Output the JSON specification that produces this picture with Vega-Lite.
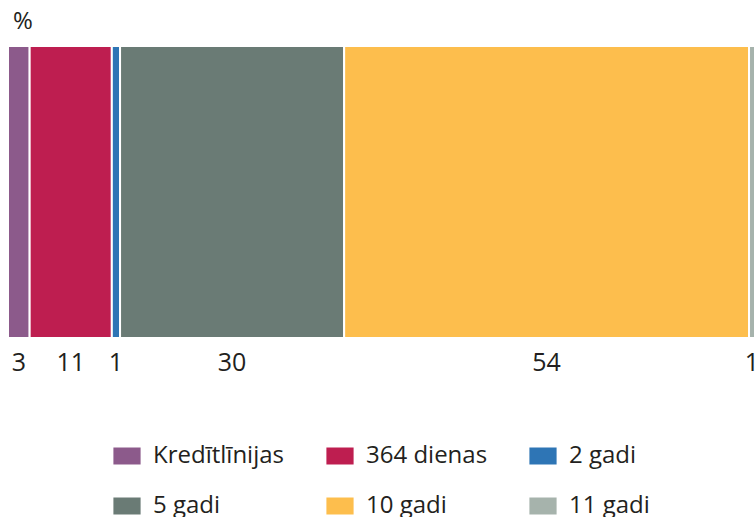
{
  "$schema": "https://vega.github.io/schema/vega-lite/v6.json",
  "autosize": "none",
  "width": 747,
  "height": 292,
  "padding": {"left": 8, "top": 46, "right": 0, "bottom": 179},
  "background": "white",
  "config": {"view": {"stroke": null}, "font": "Open Sans"},
  "title": {"text": "%", "anchor": "start", "frame": "group", "font": "Open Sans", "fontSize": 24, "fontWeight": "normal", "color": "#231F20", "dx": 5, "offset": 12},
  "data": {"values": [
    {"order": 1, "category": "Kredītlīnijas", "value": 2.9},
    {"order": 2, "category": "364 dienas", "value": 11.0},
    {"order": 3, "category": "2 gadi", "value": 1.1},
    {"order": 4, "category": "5 gadi", "value": 30.0},
    {"order": 5, "category": "10 gadi", "value": 54.2},
    {"order": 6, "category": "11 gadi", "value": 0.8}
  ]},
  "transform": [
    {"stack": "value", "groupby": [], "sort": [{"field": "order", "order": "ascending"}], "as": ["x0", "x1"]},
    {"calculate": "(datum.x0 + datum.x1) / 2", "as": "mid"}
  ],
  "layer": [
    {
      "mark": {"type": "bar", "stroke": "white", "strokeWidth": 2, "clip": true},
      "encoding": {
        "x": {"field": "x0", "type": "quantitative", "scale": {"domain": [0, 100], "nice": false}, "axis": null},
        "x2": {"field": "x1"},
        "y": {"value": 0},
        "y2": {"value": "height"},
        "color": {
          "field": "category", "type": "nominal",
          "scale": {
            "domain": ["Kredītlīnijas", "364 dienas", "2 gadi", "5 gadi", "10 gadi", "11 gadi"],
            "range": ["#8C5A8B", "#BE1E50", "#2E75B5", "#6A7B75", "#FDBE4D", "#A6B3AC"]
          },
          "legend": {
            "title": null,
            "orient": "none",
            "legendX": 107,
            "legendY": 398,
            "direction": "horizontal",
            "columns": 3,
            "symbolType": "M-1.6,-1H1.6V1H-1.6Z",
            "symbolSize": 289,
            "symbolStrokeWidth": 0,
            "symbolOpacity": 1,
            "labelFont": "Open Sans",
            "labelFontSize": 24,
            "labelColor": "#231F20",
            "labelOffset": 14,
            "columnPadding": 41,
            "rowPadding": 26,
            "labelLimit": 300
          }
        }
      }
    },
    {
      "mark": {"type": "text", "font": "Open Sans", "fontSize": 25, "color": "#231F20", "baseline": "middle", "align": "center", "dy": 25},
      "encoding": {
        "x": {"field": "mid", "type": "quantitative"},
        "y": {"value": "height"},
        "text": {"field": "value", "type": "quantitative", "format": ".0f"}
      }
    }
  ]
}
